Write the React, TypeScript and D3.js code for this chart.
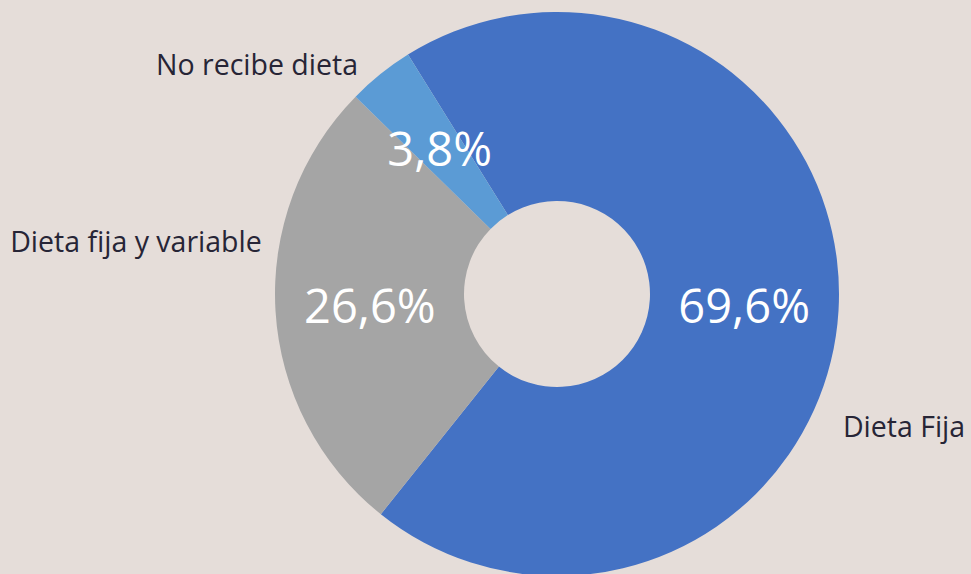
import React, { useEffect, useRef } from 'react';
import * as d3 from 'd3';

// Slice data (percent)
const categories = ['Dieta Fija', 'Dieta fija y variable', 'No recibe dieta'];
const values = [69.6, 26.6, 3.8];
const valueLabels = ['69,6%', '26,6%', '3,8%'];

const colors = ['#4472c4', '#a5a5a5', '#5b9bd5'];

// Outside category label placement: angle (deg, clockwise from top) and radius
const labelAngles = [114.8, -79.8, -40.9];
const labelRadii = [315, 300, 304];
const labelAnchors = ['start', 'end', 'end'];

interface Slice {
  name: string;
  value: number;
  label: string;
  color: string;
}

const data: Slice[] = categories.map((c, i) => ({
  name: c,
  value: values[i],
  label: valueLabels[i],
  color: colors[i],
}));

const App: React.FC = () => {
  const svgRef = useRef<SVGSVGElement>(null);
  const width = 971;
  const height = 574;

  useEffect(() => {
    if (!svgRef.current) return;
    const svg = d3.select(svgRef.current);
    svg.selectAll('*').remove();

    const cx = 557;
    const cy = 294;
    const outerR = 282;
    const innerR = 93;
    const start = (-31.9 * Math.PI) / 180;

    svg
      .append('rect')
      .attr('width', width)
      .attr('height', height)
      .attr('fill', '#e5ddd9');

    const g = svg.append('g').attr('transform', `translate(${cx},${cy})`);

    const pie = d3
      .pie<Slice>()
      .value(d => d.value)
      .sort(null)
      .startAngle(start)
      .endAngle(start + 2 * Math.PI);

    const arc = d3.arc<d3.PieArcDatum<Slice>>().innerRadius(innerR).outerRadius(outerR);

    const arcs = pie(data);

    g.selectAll('path.slice')
      .data(arcs)
      .join('path')
      .attr('class', 'slice')
      .attr('d', arc)
      .attr('fill', d => d.data.color);

    // Percent labels
    g.selectAll('text.pct')
      .data(arcs)
      .join('text')
      .attr('class', 'pct')
      .attr('transform', d => `translate(${arc.centroid(d)})`)
      .attr('text-anchor', 'middle')
      .attr('dominant-baseline', 'central')
      .attr('fill', '#ffffff')
      .style('font-family', '"Open Sans", sans-serif')
      .style('font-size', '47px')
      .text(d => d.data.label);

    // Category labels
    g.selectAll('text.cat')
      .data(arcs)
      .join('text')
      .attr('class', 'cat')
      .attr('x', (d, i) => labelRadii[i] * Math.sin((labelAngles[i] * Math.PI) / 180))
      .attr('y', (d, i) => -labelRadii[i] * Math.cos((labelAngles[i] * Math.PI) / 180))
      .attr('text-anchor', (d, i) => labelAnchors[i])
      .attr('dominant-baseline', 'central')
      .attr('fill', '#272536')
      .style('font-family', '"Open Sans", sans-serif')
      .style('font-size', '28.5px')
      .text(d => d.data.name);
  }, []);

  return (
    <div style={{ position: 'fixed', left: 0, top: 0, width, height }}>
      <svg ref={svgRef} width={width} height={height} style={{ display: 'block' }} />
    </div>
  );
};

export default App;
